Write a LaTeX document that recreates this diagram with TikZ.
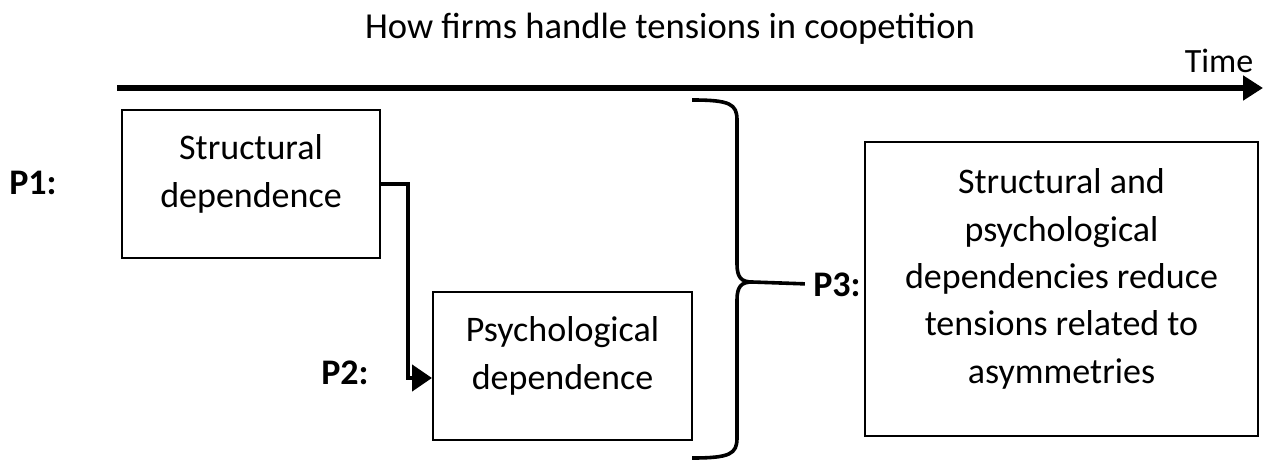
\documentclass[tikz,border=0pt]{standalone}
\usepackage{fontspec}
\setmainfont{Carlito}
\usepackage{tikz}
\usetikzlibrary{arrows.meta, positioning, calc}
\tikzstyle{depbox} = [rectangle, draw, align=center, line width=1pt, text depth=13pt, font=\fontsize{18}{23.7}\selectfont]
\tikzstyle{proplabel} = [font=\fontsize{18}{22}\selectfont\bfseries, inner sep=4pt]
\tikzstyle{flowArrow} = [line width=2.2pt, -{Triangle[length=10pt, width=13pt]}]

\begin{document}
\begin{tikzpicture}[x=0.5pt, y=-0.5pt]
    \useasboundingbox (0,0) rectangle (1264,460);
    \node[font=\fontsize{18.3}{22}\selectfont] at (670, 29) (title) {How firms handle tensions in coopetition};
    \node[font=\fontsize{17}{22}\selectfont] at (1219, 61) (time) {Time};
    \coordinate (tstart) at (117, 88);
    \coordinate (tend) at (1263, 88);
    \draw[line width=3.4pt, -{Triangle[length=10pt, width=12pt]}] (tstart) -- (tend);

    \node[depbox, minimum width=129pt, minimum height=74pt] at (251, 184) (structural) {Structural\\dependence};
        \node[depbox, minimum width=129.5pt, minimum height=74pt] at (562.5, 366) (psych) {Psychological\\dependence};
    \node[depbox, minimum width=196.5pt, minimum height=147pt] at (1061.5, 289) (reduce) {Structural and\\psychological\\dependencies reduce\\tensions related to\\asymmetries};

    \node[proplabel] at (33, 183) (p1) {P1:};
    \node[proplabel] at (345, 373) (p2) {P2:};
    \node[proplabel] at (837, 285) (p3) {P3:};

        \draw[flowArrow] (structural.east) -- ++(27, 0) |- ([yshift=-6pt]psych.west);

    % brace over both dependencies
    \coordinate (tip) at (752, 282);
    \draw[line width=1.8pt] (692, 100) .. controls (730, 100) and (737, 104) .. (737, 120) -- (737, 264)
        .. controls (737, 277) and (741, 282) .. (tip)
        .. controls (741, 282) and (737, 287) .. (737, 300) -- (737, 438)
        .. controls (737, 454) and (730, 458) .. (692, 458);
    \draw[line width=1.8pt] (tip) -- (p3);
\end{tikzpicture}
\end{document}
